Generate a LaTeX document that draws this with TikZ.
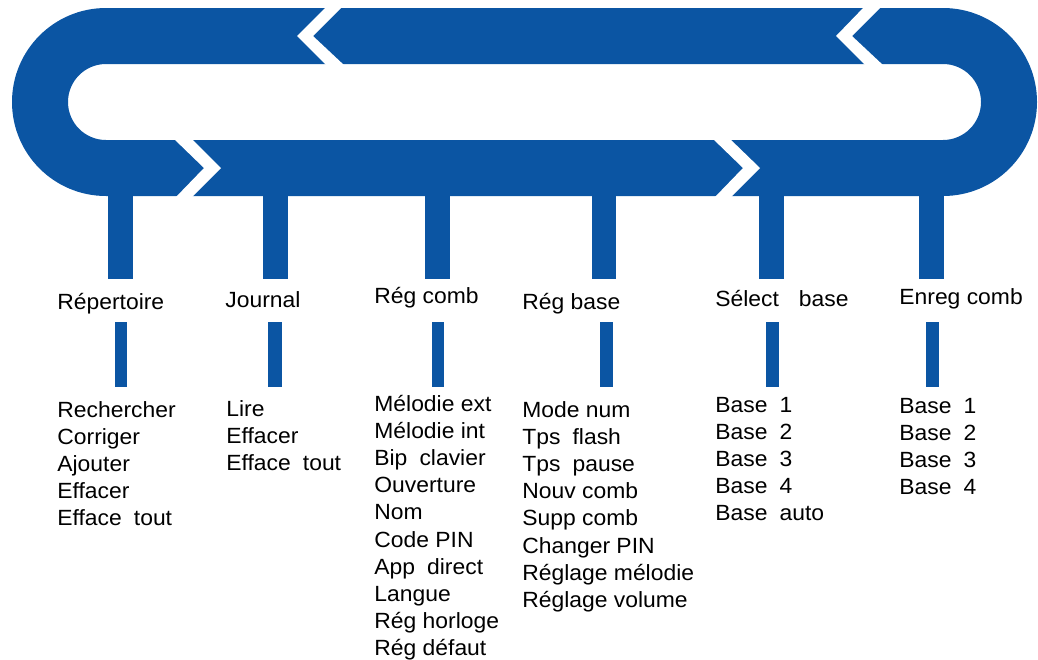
\documentclass[tikz,border=0pt]{standalone}
\usepackage{fontspec}
\setmainfont{Liberation Sans}[FakeStretch=1.04]
\usetikzlibrary{positioning}
\definecolor{bandblue}{RGB}{11,85,163}
\newcommand{\wsp}{\hspace{0.55em}}

\begin{document}
\begin{tikzpicture}[
    x=0.5pt, y=0.5pt,
    band/.style={fill=bandblue},
    cut/.style={fill=white},
    head/.style={anchor=base west, inner sep=0pt,
                 font=\fontsize{11}{13.6}\selectfont},
    % a multi-line node sits on the baseline of its last line
    items/.style={anchor=base west, inner sep=0pt, align=left,
                  font=\fontsize{11}{13.6}\selectfont}
  ]
  \useasboundingbox (0,0) rectangle (1038,-659);

  % loop band
  \fill[band, even odd rule]
    (106,-8) -- (943,-8) arc[start angle=90, end angle=-90, radius=94]
      -- (106,-196) arc[start angle=270, end angle=90, radius=94] -- cycle
    (106,-64) -- (943,-64) arc[start angle=90, end angle=-90, radius=38]
      -- (106,-140) arc[start angle=270, end angle=90, radius=38] -- cycle;

  % white chevrons in the band
  \fill[cut] (327,-6) -- (297,-36) -- (327,-66) -- (345,-66) -- (313,-36) -- (343,-6) -- cycle;
  \fill[cut] (865,-6) -- (836,-36) -- (866,-66) -- (884,-66) -- (852,-36) -- (882,-6) -- cycle;
  \fill[cut] (173,-138) -- (204,-168) -- (175,-198) -- (191,-198) -- (221,-168) -- (191,-138) -- cycle;
  \fill[cut] (712,-138) -- (743,-168) -- (714,-198) -- (730,-198) -- (760,-168) -- (729,-138) -- cycle;

  % stubs under the band
  \fill[band] (108,-190) rectangle (133,-279);
  \fill[band] (263,-190) rectangle (288,-279);
  \fill[band] (425,-190) rectangle (450,-279);
  \fill[band] (592,-190) rectangle (616,-279);
  \fill[band] (759,-190) rectangle (784,-279);
  \fill[band] (919,-190) rectangle (944,-279);

  % menu headings
  \node[head] (rep)   at (57,-309)  {Répertoire};
  \node[head] (jour)  at (225,-307) {Journal};
  \node[head] (rcomb) at (374,-303) {Rég comb};
  \node[head] (rbase) at (522,-309) {Rég base};
  \node[head] (sbase) at (715,-306) {Sélect\hspace{10pt}base};
  \node[head] (ecomb) at (899,-304) {Enreg comb};

  % small bars
  \fill[band] (115,-322) rectangle (127,-387);
  \fill[band] (268,-322) rectangle (282,-387);
  \fill[band] (432,-322) rectangle (444,-387);
  \fill[band] (600,-322) rectangle (613,-387);
  \fill[band] (766,-322) rectangle (779,-387);
  \fill[band] (926,-322) rectangle (939,-387);

  % sub menus
  \node[items] (repl) at (57,-525.8)
    {Rechercher\\Corriger\\Ajouter\\Effacer\\Efface\wsp tout};
  \node[items] (jourl) at (226,-470.4)
    {Lire\\Effacer\\Efface\wsp tout};
  \node[items] (rcombl) at (374,-655.8)
    {Mélodie ext\\Mélodie int\\Bip\wsp clavier\\Ouverture\\Nom\\Code PIN\\
     App\wsp direct\\Langue\\Rég horloge\\Rég défaut};
  \node[items] (rbasel) at (522,-607.4)
    {Mode num\\Tps\wsp flash\\Tps\wsp pause\\Nouv comb\\Supp comb\\Changer PIN\\
     Réglage mélodie\\Réglage volume};
  \node[items] (sbasel) at (715,-520.8)
    {Base\wsp 1\\Base\wsp 2\\Base\wsp 3\\Base\wsp 4\\Base\wsp auto};
  \node[items] (ecombl) at (899,-494.6)
    {Base\wsp 1\\Base\wsp 2\\Base\wsp 3\\Base\wsp 4};
\end{tikzpicture}
\end{document}
